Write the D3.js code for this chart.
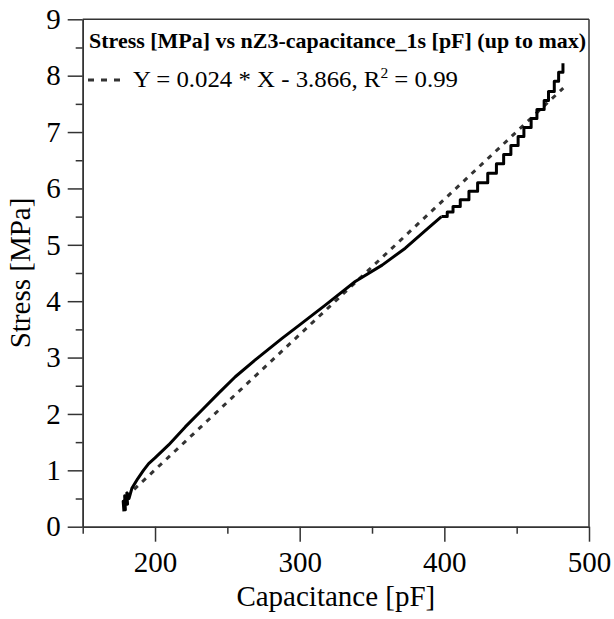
<!DOCTYPE html>
<html>
<head>
<meta charset="utf-8">
<script src="https://cdn.jsdelivr.net/npm/d3@7"></script>
<style>
  body { margin: 0; background: #fff; }
  svg { display: block; font-family: "Liberation Serif", "Times New Roman", serif; }
</style>
</head>
<body>
<script>
// smooth lower part of the curve (capacitance pF, stress MPa)
var capLow = [178.5, 178, 179.5, 179, 181, 180.5, 182, 184, 188, 192, 195.6, 200, 209.4, 220.9, 232.5, 244, 255.5, 269.3, 287.8, 300, 317.7, 338.4, 357, 373, 389, 398];
var stressLow = [0.27, 0.45, 0.3, 0.55, 0.4, 0.6, 0.5, 0.68, 0.85, 1.0, 1.12, 1.22, 1.45, 1.77, 2.07, 2.37, 2.66, 2.96, 3.34, 3.58, 3.93, 4.35, 4.64, 4.94, 5.3, 5.5];

// stepped upper part
var capHigh = [398, 402, 406, 411, 417, 423, 430, 436, 441, 446, 451, 455, 460, 464, 469, 472, 476, 479, 482];
var stressHigh = [5.5, 5.58, 5.68, 5.8, 5.95, 6.1, 6.27, 6.44, 6.6, 6.76, 6.92, 7.08, 7.24, 7.4, 7.56, 7.72, 7.9, 8.06, 8.22];

// fitted line end points
var fitCap = [180, 482.2];
var fitStress = [0.53, 7.78];

var xTicks = [200, 300, 400, 500];
var xMinor = [150, 250, 350, 450];
var yTicks = [0, 1, 2, 3, 4, 5, 6, 7, 8, 9];
var yMinor = [0.5, 1.5, 2.5, 3.5, 4.5, 5.5, 6.5, 7.5, 8.5];

var legendTitle = "Stress [MPa] vs nZ3-capacitance_1s [pF] (up to max)";

var width = 614, height = 619;
var plotL = 82.7, plotR = 589, plotT = 19.3, plotB = 526.7;

var svg = d3.select('body')
    .append('svg')
    .attr('width', width)
    .attr('height', height);

svg.append('rect').attr('width', width).attr('height', height).attr('fill', '#fff');

var x = d3.scaleLinear().domain([150, 500]).range([plotL, plotR]);
var y = d3.scaleLinear().domain([0, 9]).range([plotB, plotT]);

var axisColor = '#333';

// frame top / right
svg.append('line').attr('x1', plotL).attr('x2', plotR).attr('y1', plotT).attr('y2', plotT)
    .attr('stroke', axisColor).attr('stroke-width', 1.5);
svg.append('line').attr('x1', plotR).attr('x2', plotR).attr('y1', plotT).attr('y2', plotB)
    .attr('stroke', axisColor).attr('stroke-width', 1.5);

function styleAxis(g) {
    g.select('.domain').attr('stroke', axisColor).attr('stroke-width', 1.5);
    g.selectAll('.tick line').attr('stroke', axisColor).attr('stroke-width', 1.5);
    g.selectAll('.tick text')
        .attr('font-family', '"Liberation Serif", "Times New Roman", serif')
        .attr('font-size', 29)
        .attr('fill', '#000');
}

svg.append('g').attr('transform', `translate(0,${plotB})`)
    .call(d3.axisBottom(x).tickValues(xTicks).tickSize(15).tickSizeOuter(0).tickPadding(10).tickFormat(d3.format('d')))
    .call(styleAxis);
svg.append('g').attr('transform', `translate(0,${plotB})`)
    .call(d3.axisBottom(x).tickValues(xMinor).tickSize(7).tickFormat('').tickSizeOuter(0))
    .call(styleAxis);

svg.append('g').attr('transform', `translate(${plotL},0)`)
    .call(d3.axisLeft(y).tickValues(yTicks).tickSize(15).tickSizeOuter(0).tickPadding(7).tickFormat(d3.format('d')))
    .call(styleAxis);
svg.append('g').attr('transform', `translate(${plotL},0)`)
    .call(d3.axisLeft(y).tickValues(yMinor).tickSize(7).tickFormat('').tickSizeOuter(0))
    .call(styleAxis);

// axis titles
svg.append('text')
    .attr('x', (plotL + plotR) / 2)
    .attr('y', 606)
    .attr('text-anchor', 'middle')
    .attr('font-size', 29)
    .text('Capacitance [pF]');

svg.append('text')
    .attr('transform', `translate(30,${(plotT + plotB) / 2}) rotate(-90)`)
    .attr('text-anchor', 'middle')
    .attr('font-size', 29)
    .text('Stress [MPa]');

// fit line
var fitData = fitCap.map((c, i) => [c, fitStress[i]]);
svg.append('path')
    .datum(fitData)
    .attr('d', d3.line().x(d => x(d[0])).y(d => y(d[1])))
    .attr('fill', 'none')
    .attr('stroke', '#333')
    .attr('stroke-width', 3)
    .attr('stroke-dasharray', '5,6');

// measured curve
var lowData = capLow.map((c, i) => [c, stressLow[i]]);
var highData = capHigh.map((c, i) => [c, stressHigh[i]]);

svg.append('path')
    .datum(lowData)
    .attr('d', d3.line().x(d => x(d[0])).y(d => y(d[1])))
    .attr('fill', 'none')
    .attr('stroke', '#000')
    .attr('stroke-width', 3)
    .attr('stroke-linejoin', 'round');

svg.append('path')
    .datum(highData)
    .attr('d', d3.line().x(d => x(d[0])).y(d => y(d[1])).curve(d3.curveStepAfter))
    .attr('fill', 'none')
    .attr('stroke', '#000')
    .attr('stroke-width', 3)
    .attr('stroke-linejoin', 'round');

// legend
svg.append('text')
    .attr('x', 89)
    .attr('y', 48)
    .attr('font-size', 21)
    .attr('font-weight', 'bold')
    .attr('textLength', 497)
    .attr('lengthAdjust', 'spacingAndGlyphs')
    .text(legendTitle);

svg.append('line')
    .attr('x1', 88).attr('x2', 120).attr('y1', 80).attr('y2', 80)
    .attr('stroke', '#333').attr('stroke-width', 3)
    .attr('stroke-dasharray', '6,7');

var eq = svg.append('text')
    .attr('x', 133)
    .attr('y', 87)
    .attr('font-size', 24)
    .attr('textLength', 325)
    .attr('lengthAdjust', 'spacingAndGlyphs');
eq.append('tspan').text('Y = 0.024 * X - 3.866, R');
eq.append('tspan').attr('font-size', 15).attr('dy', -9).text('2');
eq.append('tspan').attr('dy', 9).text(' = 0.99');
</script>
</body>
</html>
